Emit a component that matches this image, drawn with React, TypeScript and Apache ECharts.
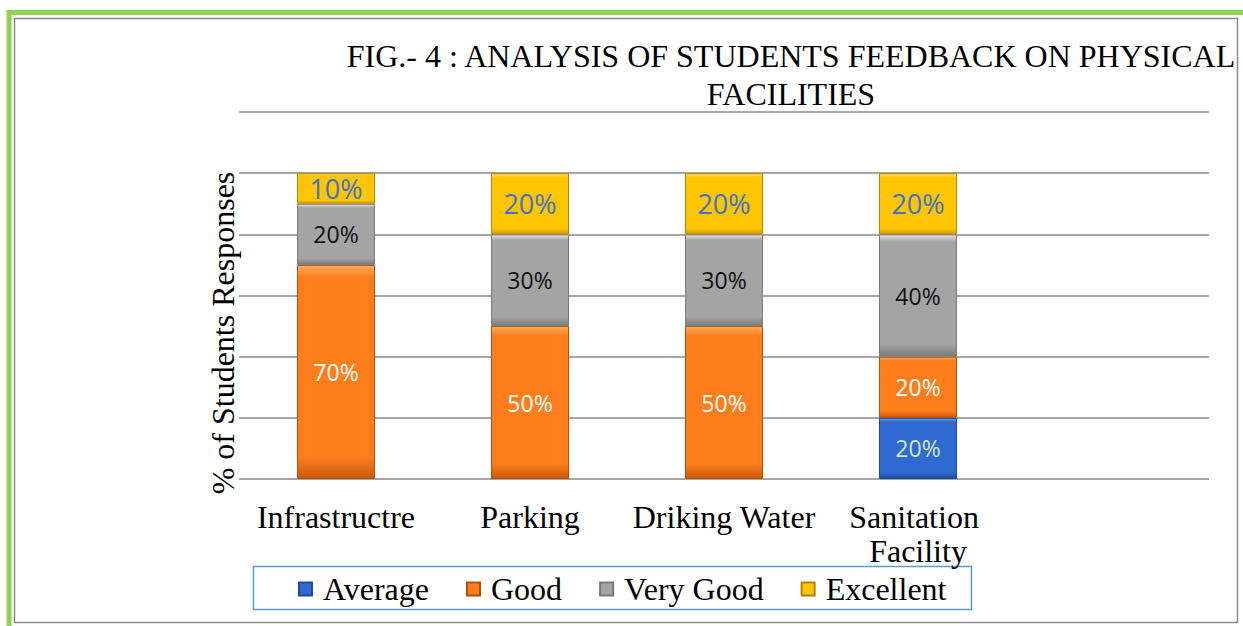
import React, { useEffect, useRef } from "react";
import * as echarts from "echarts";

const categories = ["Infrastructre", "Parking", "Driking Water", "Sanitation Facility", ""];
const seriesNames = ["Average", "Good", "Very Good", "Excellent"];
const averageValues = [null, null, null, 20, null];
const goodValues = [70, 50, 50, 20, null];
const veryGoodValues = [20, 30, 30, 40, null];
const excellentValues = [10, 20, 20, 20, null];
const yTicks = [0, 20, 40, 60, 80, 100, 120];

const SERIF = "'Liberation Serif', 'Times New Roman', serif";
const SANS = "'Open Sans', 'Noto Sans', sans-serif";

function grad(top: string, base: string, bottom: string) {
  return new echarts.graphic.LinearGradient(0, 0, 0, 1, [
    { offset: 0, color: top },
    { offset: 0.06, color: base },
    { offset: 0.9, color: base },
    { offset: 1, color: bottom },
  ]);
}

export default function App() {
  const ref = useRef<HTMLDivElement>(null);
  useEffect(() => {
    if (!ref.current) return;
    const chart = echarts.init(ref.current, null, { renderer: "svg" });
    const styles = [
      { fill: grad("#6aa2ee", "#2f6ad0", "#1f4a98"), border: "#1f4a98", label: "#cfe6c2", size: 23 },
      { fill: grad("#ffab5c", "#ff7d1b", "#c85a0c"), border: "#b0520c", label: "#ffffff", size: 23 },
      { fill: grad("#e6e6e6", "#a4a4a4", "#7c7c7c"), border: "#7a7a7a", label: "#111111", size: 23 },
      { fill: grad("#ffe477", "#ffc600", "#d9a000"), border: "#b08600", label: "#4472c4", size: 27 },
    ];
    const valueLists = [averageValues, goodValues, veryGoodValues, excellentValues];
    const series = seriesNames.map((name, i) => ({
      name,
      type: "bar",
      stack: "total",
      barWidth: 78,
      data: valueLists[i],
      itemStyle: { color: styles[i].fill, borderColor: styles[i].border, borderWidth: 1 },
      label: {
        show: true,
        position: "inside",
        formatter: (p: any) => (p.value == null ? "" : p.value + "%"),
        color: styles[i].label,
        fontFamily: SANS,
        fontSize: styles[i].size,
      },
    }));
    chart.setOption({
      animation: false,
      backgroundColor: "#ffffff",
      grid: { left: 239, right: 34, top: 112, bottom: 147, containLabel: false },
      xAxis: {
        type: "category",
        data: categories,
        axisLine: { show: false },
        axisTick: { show: false },
        axisLabel: {
          interval: 0,
          margin: 21,
          fontFamily: SERIF,
          fontSize: 32,
          lineHeight: 34,
          color: "#000",
          width: 194,
          overflow: "break",
        },
      },
      yAxis: {
        type: "value",
        min: yTicks[0],
        max: yTicks[yTicks.length - 1],
        interval: 20,
        axisLabel: { show: false },
        axisLine: { show: false },
        axisTick: { show: false },
        splitLine: { lineStyle: { color: "#8a8a8a", width: 1.5 } },
      },
      legend: {
        data: seriesNames,
        left: 293,
        top: 568,
        itemWidth: 13,
        itemHeight: 13,
        itemGap: 37,
        icon: "rect",
        textStyle: { fontFamily: SERIF, fontSize: 32, color: "#000", padding: [0, 0, 0, 6] },
      },
      title: {
        text: "FIG.- 4 : ANALYSIS OF STUDENTS FEEDBACK ON PHYSICAL\nFACILITIES",
        left: 786,
        top: 32,
        textAlign: "center",
        textStyle: { fontFamily: SERIF, fontSize: 32, fontWeight: "normal", color: "#000", lineHeight: 38 },
      },
      graphic: [
        { type: "rect", silent: true, z: -1, shape: { x: 9, y: 12.5, width: 1240, height: 620 }, style: { fill: "none", stroke: "#92d050", lineWidth: 5 } },
        { type: "rect", silent: true, z: -1, shape: { x: 14.5, y: 18.5, width: 1223, height: 604 }, style: { fill: "none", stroke: "#8a8a8a", lineWidth: 1.5 } },
        { type: "rect", silent: true, shape: { x: 253.5, y: 566.5, width: 718, height: 43 }, style: { fill: "none", stroke: "#5b9bd5", lineWidth: 1.5 } },
        {
          type: "text",
          silent: true,
          x: 223,
          y: 333,
          rotation: Math.PI / 2,
          style: { text: "% of Students Responses", font: "32px " + SERIF, fill: "#000", align: "center", verticalAlign: "middle" },
        },
      ],
      series,
    });
    return () => chart.dispose();
  }, []);
  return <div ref={ref} style={{ position: "fixed", left: 0, top: 0, width: 1243, height: 626 }} />;
}
